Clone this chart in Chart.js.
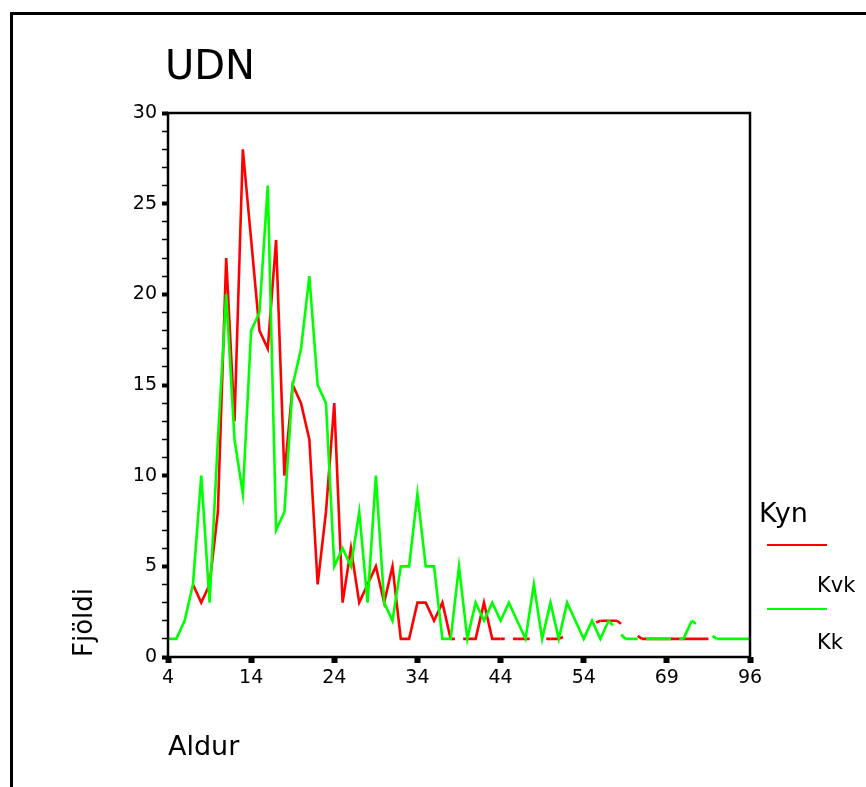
<!DOCTYPE html>
<html>
<head>
<meta charset="utf-8">
<script src="https://cdn.jsdelivr.net/npm/chart.js"></script>
<style>
  html, body { margin: 0; padding: 0; background: #fff; }
  body { width: 866px; height: 787px; position: relative; overflow: hidden;
         font-family: "DejaVu Sans", sans-serif; color: #000; }
  #frame { position: absolute; left: 10px; top: 12px; width: 900px; height: 900px;
           border-top: 3px solid #000; border-left: 3px solid #000; }
  #chart { position: absolute; left: 0; top: 0; }
  #title { position: absolute; left: 165px; top: 45px; font-size: 40px; line-height: 1; }
  .lg { position: absolute; line-height: 1; white-space: nowrap; }
  .lg-line { position: absolute; height: 2px; width: 60px; }
</style>
</head>
<body>
<div id="frame"></div>
<canvas id="chart" width="866" height="787"></canvas>
<div id="title">UDN</div>
<div id="legend"></div>
<script>
// Aldur (age) categories on the x axis
const ages = [
  4, 5, 6, 7, 8, 9, 10, 11, 12, 13,
  14, 15, 16, 17, 18, 19, 20, 21, 22, 23,
  24, 25, 26, 27, 28, 29, 30, 31, 32, 33,
  34, 35, 36, 37, 38, 39, 40, 41, 42, 43,
  44, 45, 46, 47, 48, 49, 50, 51, 52, 53,
  54, 55, 56, 57, 58, 59, 60, 62, 64, 66,
  69, 70, 71, 72, 74, 76, 78, 80, 83, 88,
  96
];
// Fjöldi per age, women (Kvk)
const kvk = [
  null, null, null, 4, 3, 4, 8, 22, 13, 28,
  23, 18, 17, 23, 10, 15, 14, 12, 4, 8,
  14, 3, 6, 3, 4, 5, 3, 5, 1, 1,
  3, 3, 2, 3, 1, null, 1, 1, 3, 1,
  1, null, 1, 1, null, null, 1, 1, null, null,
  null, null, 2, 2, 2, null, null, 1, 1, 1,
  1, 1, 1, 1, 1, 1, null, null, null, null,
  null
];
// Fjöldi per age, men (Kk)
const kk = [
  1, 1, 2, 4, 10, 3, 12, 20, 12, 9,
  18, 19, 26, 7, 8, 15, 17, 21, 15, 14,
  5, 6, 5, 8, 3, 10, 3, 2, 5, 5,
  9, 5, 5, 1, 1, 5, 1, 3, 2, 3,
  2, 3, 2, 1, 4, 1, 3, 1, 3, 2,
  1, 2, 1, 2, null, 1, 1, null, 1, 1,
  1, null, 1, 2, null, null, 1, 1, 1, 1,
  1
];
const shownAges = [4, 14, 24, 34, 44, 54, 69, 96];
const yLabels = [0, 5, 10, 15, 20, 25, 30];
const seriesNames = ["Kvk", "Kk"];
const seriesColors = ["#ff0000", "#00ff00"];

Chart.defaults.font.family = '"DejaVu Sans", sans-serif';
Chart.defaults.color = "#000";

// a missing age breaks the line only over its own category width,
// the interpolated line is still drawn half way into it from both sides
function gapDash(ctx) {
  if (!(ctx.p0.skip || ctx.p1.skip)) return undefined;
  const data = ctx.chart.data.datasets[ctx.datasetIndex].data;
  let a = ctx.p0DataIndex;
  while (a > 0 && data[a] == null) a--;
  let b = ctx.p1DataIndex;
  while (b < data.length - 1 && data[b] == null) b++;
  if (data[a] == null || data[b] == null) return undefined;
  const pts = ctx.chart.getDatasetMeta(ctx.datasetIndex).data;
  const len = Math.hypot(pts[b].x - pts[a].x, pts[b].y - pts[a].y);
  const part = len / (2 * (b - a));
  return [part, len - 2 * part + a * 1e-4, part];
}

const plotFrame = {
  id: "plotFrame",
  afterDraw(chart) {
    const { ctx, chartArea: a } = chart;
    ctx.save();
    ctx.strokeStyle = "#000";
    ctx.lineWidth = 2.5;
    ctx.strokeRect(a.left, a.top, a.right - a.left, a.bottom - a.top);
    ctx.restore();
  },
};

const line = {
  borderWidth: 2.6,
  pointRadius: 0,
  tension: 0,
  fill: false,
  spanGaps: true,
  segment: { borderDash: gapDash },
};

new Chart(document.getElementById("chart"), {
  type: "line",
  data: {
    labels: ages.map(String),
    datasets: [
      { ...line, label: seriesNames[0], data: kvk, borderColor: seriesColors[0], order: 2 },
      { ...line, label: seriesNames[1], data: kk, borderColor: seriesColors[1], order: 1 },
    ],
  },
  options: {
    responsive: false,
    animation: false,
    layout: { padding: { left: 60, top: 113, right: 116, bottom: 23 } },
    plugins: { legend: { display: false }, tooltip: { enabled: false } },
    scales: {
      x: {
        offset: false,
        border: { display: false },
        grid: { drawOnChartArea: false, tickLength: 6, tickWidth: 6, tickColor: "#000" },
        ticks: {
          autoSkip: false,
          maxRotation: 0,
          padding: 4,
          font: { size: 19 },
          callback(v) {
            const a = this.getLabelForValue(v);
            return shownAges.includes(+a) ? a : null;
          },
        },
        title: { display: true, text: "Aldur", align: "start", padding: 0, font: { size: 27 } },
        afterFit(s) { s.height = 107; },
      },
      y: {
        min: 0,
        max: 30,
        border: { display: false },
        grid: {
          drawOnChartArea: false,
          tickLength: 6,
          tickColor: "#000",
          tickWidth: (c) => (c.tick && c.tick.value % 5 === 0 ? 4 : 1.5),
        },
        ticks: {
          stepSize: 1,
          autoSkip: false,
          padding: 5,
          font: { size: 19 },
          callback: (v) => (yLabels.includes(v) ? String(v) : ""),
        },
        title: { display: true, text: "Fjöldi", align: "start", padding: { top: 10, bottom: 0 }, font: { size: 26 } },
        afterFit(s) { s.width = 108; },
      },
    },
  },
  plugins: [plotFrame],
});

// legend: heading, then a line sample and its name for each series
const legend = document.getElementById("legend");
legend.innerHTML = '<div class="lg" style="left:759px;top:499px;font-size:27px">Kyn</div>';
seriesNames.forEach((name, i) => {
  legend.innerHTML +=
    '<div class="lg-line" style="left:767px;top:' + (544 + i * 64) + 'px;background:' + seriesColors[i] + '"></div>' +
    '<div class="lg" style="left:817px;top:' + (575 + i * 57) + 'px;font-size:21px">' + name + "</div>";
});
</script>
</body>
</html>
